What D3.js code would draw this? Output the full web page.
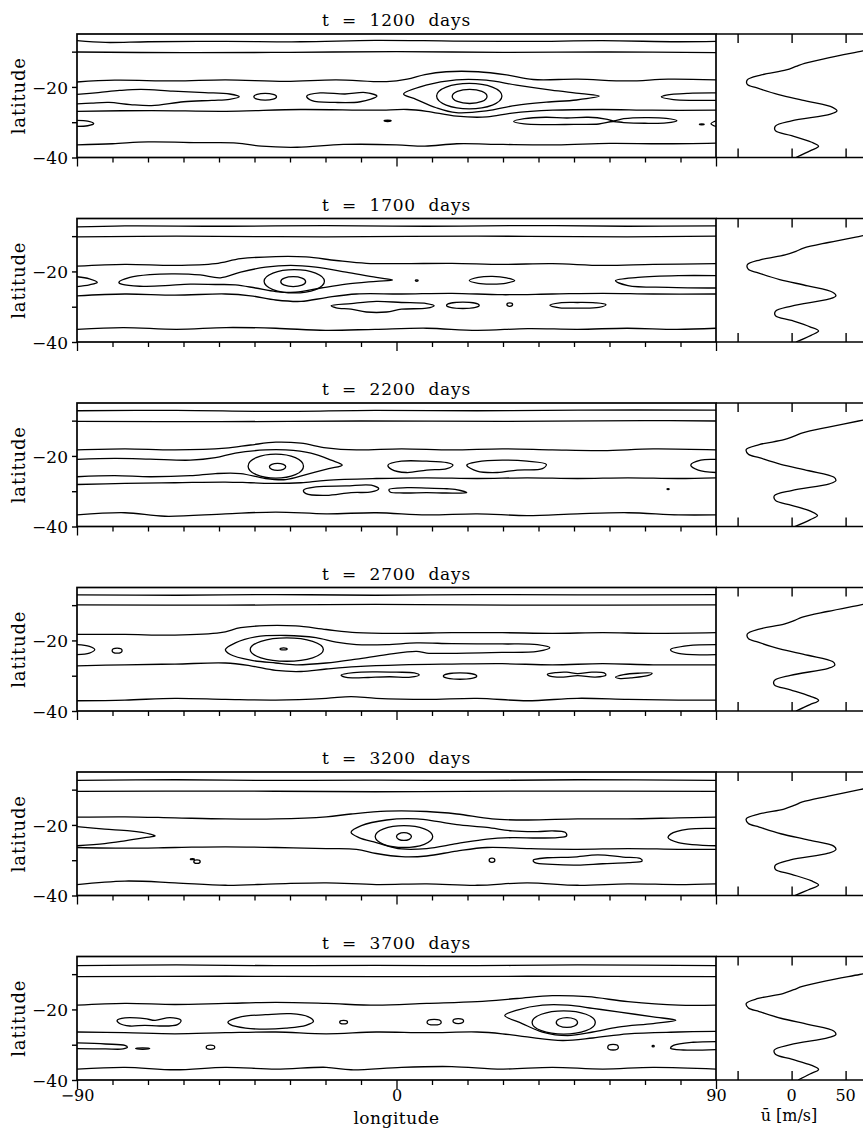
<!DOCTYPE html>
<html><head><meta charset="utf-8">
<script src="https://cdn.jsdelivr.net/npm/d3@7"></script>
<style>
body{margin:0;background:#fff}
svg{display:block}
text{font-family:"DejaVu Serif",serif;fill:#000}
</style>
</head><body>
<svg id="c" width="863" height="1129"></svg>
<script>
// ---------------- DATA ----------------
const days = [1200, 1700, 2200, 2700, 3200, 3700];
const lonTicks = [-90,-80,-70,-60,-50,-40,-30,-20,-10,0,10,20,30,40,50,60,70,80,90];
const lonLabels = [-90, 0, 90];
const latTicks = [-10,-20,-30,-40];
const latLabels = [-20,-40];
const uTicks = [-50, 0, 50];
const uLabels = [0, 50];

// open contour lines [lon, lat]
const open1200 = [
 [[-90,-6.9],[-82,-7.4],[-70,-7.2],[-48,-7.1],[-27,-7.2],[-6,-6.8],[16,-7.0],[37,-7.1],[58,-6.9],[79,-7.2],[90,-7.1]],
 [[-90,-10.1],[-60,-10.3],[-30,-10.2],[0,-10.0],[30,-10.2],[60,-10.1],[90,-10.3]],
 [[-90,-18.6],[-79.4,-18.1],[-62.4,-18.3],[-48.2,-18.0],[-31.2,-18.4],[-17,-18.0],[-2.8,-18.5],[3,-17.8],[8,-16.5],[14,-15.7],[23,-15.7],[31,-16.6],[38.5,-17.9],[51,-17.8],[65.2,-18.3],[76.5,-17.8],[90,-18.0]],
 [[-90,-22.1],[-84,-21.6],[-78,-21.0],[-72,-20.7],[-63,-21.2],[-54,-21.6],[-47,-22.0],[-44.3,-22.8],[-47,-23.5],[-52,-23.8],[-60,-24.2],[-69,-25.3],[-75,-25.0],[-81,-24.4],[-86,-24.6],[-90,-24.8]],
 [[90,-21.7],[82.2,-21.8],[76,-22.3],[74.6,-22.8],[78,-23.6],[84,-23.8],[90,-23.8]],
 [[-90,-26.9],[-69,-26.7],[-48,-26.9],[-27,-26.4],[-6,-26.6],[3,-26.4],[8.5,-26.9],[17,-28.3],[25.5,-28.5],[32.6,-27.4],[44,-26.6],[58,-26.4],[72,-26.6],[90,-26.6]],
 [[-90,-29.5],[-87,-29.7],[-85.3,-30.4],[-87,-31.0],[-90,-31.2]],
 [[90,-29.6],[88.6,-30.4],[90,-31.2]],
 [[-90,-36.4],[-80,-36.1],[-70,-35.6],[-55,-35.8],[-45,-35.9],[-38,-36.8],[-28,-37.1],[-15,-36.3],[0,-36.4],[8,-36.8],[17,-36.1],[30,-36.3],[45,-36.4],[60,-36.0],[75,-36.1],[90,-35.9]]
];
const closed1200 = [
 [[-25.3,-22.6],[-21.5,-21.7],[-14.5,-22.0],[-8.8,-21.6],[-5.5,-22.6],[-10.2,-24.2],[-17.3,-24.4],[-23.8,-23.9]],
 [[2.0,-22.0],[8.3,-19.5],[16.8,-18.0],[25.3,-18.1],[33.8,-19.5],[43.6,-20.9],[52.1,-21.9],[57.1,-22.6],[50.7,-23.7],[42.2,-24.3],[33.7,-25.2],[25.3,-26.8],[16.8,-27.3],[11.2,-25.9],[5.5,-23.5]],
 [[33,-29.8],[36,-29.0],[42,-28.6],[48,-28.8],[54,-28.6],[59,-29.1],[61,-29.6],[64,-29.0],[70,-28.7],[76,-28.9],[79,-29.6],[76,-30.2],[70,-30.3],[64,-30.1],[61,-29.8],[57,-30.5],[50,-30.6],[42,-30.7],[36,-30.5]]
];
const ovals1200 = [[-37.0,-22.8,3.2,0.95],[20.5,-22.6,9.2,3.6],[20.6,-22.7,4.9,2.0],[-2.5,-29.6,1.0,0.2],[86,-30.6,0.7,0.15]];
const profile1200 = [[-8.6,85],[-9.8,66],[-11.7,35],[-13.3,12],[-14.2,4],[-15.2,-5],[-16.6,-28],[-18.0,-41],[-19.3,-41],[-20.3,-32],[-22.2,-12],[-24.0,14],[-25.8,38],[-26.8,42],[-27.7,36],[-29.6,0],[-31.1,-15],[-32.4,-15],[-33.8,0],[-35.6,18],[-36.8,25],[-38.0,18],[-40,4]];

const open1700 = [
 [[-90,-7.4],[-76.5,-7.1],[-48,-7.2],[-20,-7.0],[8.5,-7.2],[37,-7.0],[65,-7.2],[90,-7.1]],
 [[-90,-10.2],[-62,-10.0],[-20,-10.2],[22.7,-10.0],[65,-10.2],[90,-10.0]],
 [[-90,-18.5],[-76.5,-18.0],[-62.4,-18.3],[-51,-17.8],[-43.9,-16.4],[-34,-15.8],[-25.5,-15.9],[-17,-16.9],[-8.5,-17.7],[1.4,-17.8],[15.6,-17.7],[29.8,-18.0],[43.9,-17.8],[58.1,-18.3],[72.3,-18.0],[90,-17.8]],
 [[-90,-21.5],[-86.5,-22.1],[-84.3,-23.1],[-86.5,-23.8],[-90,-24.3]],
 [[90,-21.2],[79.4,-21.2],[68,-21.7],[61.7,-22.6],[65.2,-24.0],[76.5,-24.5],[90,-24.7]],
 [[-90,-26.9],[-76.5,-26.4],[-62.4,-26.7],[-48.2,-26.4],[-41.1,-26.9],[-34,-28.1],[-26.9,-28.5],[-19.8,-27.4],[-11.3,-26.4],[1.4,-26.4],[15.6,-26.2],[29.8,-26.6],[43.9,-26.4],[58.1,-26.2],[72.3,-26.4],[90,-26.4]],
 [[-90,-36.4],[-77,-35.9],[-62,-36.4],[-48,-35.9],[-34,-36.1],[-20,-36.7],[-6,-36.4],[8.5,-36.1],[22.7,-36.7],[37,-36.2],[51,-36.4],[65,-36.1],[79,-36.4],[90,-36.1]]
];
const closed1700 = [
 [[-78.2,-23.1],[-75.1,-21.7],[-69.4,-20.9],[-62.4,-20.7],[-55.3,-21.0],[-49.6,-21.8],[-43.9,-20.2],[-36.9,-18.8],[-29.8,-18.3],[-22.7,-18.8],[-14.2,-20.2],[-5.7,-21.7],[-1.1,-22.4],[-5.7,-22.8],[-14.2,-23.6],[-21.3,-24.7],[-28.4,-25.9],[-34,-25.7],[-39.7,-24.7],[-45.4,-23.8],[-51,-23.7],[-58.1,-23.6],[-65.2,-24.0],[-72.3,-24.2],[-77.2,-23.7]],
 [[20.5,-22.6],[23,-21.7],[27,-21.4],[31,-21.8],[33.3,-22.6],[31,-23.3],[27,-23.6],[23,-23.4]],
 [[-18.4,-29.7],[-12.8,-29.1],[-5.7,-28.5],[1.4,-28.8],[8.5,-29.1],[10.6,-29.7],[8.5,-30.4],[1.4,-30.7],[-2.8,-31.5],[-8.5,-31.5],[-12.8,-30.7],[-17,-30.3]],
 [[43.2,-29.6],[46,-28.9],[51,-28.8],[56,-28.9],[59,-29.4],[57,-30.2],[51,-30.4],[46,-30.3]]
];
const ovals1700 = [[-28.8,-22.8,8.5,3.3],[-29.1,-22.9,3.5,1.4],[5.7,-22.6,0.4,0.2],[18.7,-29.6,4.6,0.9],[31.9,-29.4,0.8,0.5]];
const profile1700 = [[-8.8,85],[-10.0,64],[-11.8,34],[-13.4,11],[-14.3,4],[-15.3,-6],[-16.7,-29],[-18.1,-41],[-19.4,-40],[-20.4,-31],[-22.3,-11],[-24.1,15],[-25.9,38],[-26.9,41],[-27.8,35],[-29.8,0],[-31.3,-15],[-32.5,-15],[-33.9,0],[-35.7,17],[-36.9,25],[-38.1,18],[-40,4]];

const open2200 = [
 [[-90,-7.2],[-62,-7.1],[-34,-7.4],[-6,-7.1],[22.7,-7.2],[51,-7.0],[90,-7.0]],
 [[-90,-10.2],[-50,-10.3],[-10,-10.1],[30,-10.2],[70,-10.0],[90,-10.1]],
 [[-90,-18.3],[-76.5,-18.0],[-62.4,-18.3],[-48.2,-17.8],[-41.1,-16.9],[-34,-16.1],[-26.9,-16.4],[-19.8,-17.7],[-11.3,-18.3],[1.4,-18.0],[15.6,-18.3],[29.8,-18.0],[43.9,-18.3],[58.1,-18.5],[72.3,-18.0],[90,-18.3]],
 [[-90,-21.0],[-79.4,-20.7],[-69.4,-20.9],[-58.1,-21.2],[-51,-20.5],[-45.4,-19.2],[-36.9,-18.3],[-31.2,-18.3],[-24.1,-19.2],[-18.4,-21.2],[-15.3,-22.6],[-19.1,-23.6],[-25.5,-25.3],[-31.2,-26.7],[-36.9,-26.4],[-43.9,-25.0],[-51,-25.0],[-58.1,-25.6],[-69.4,-25.9],[-79.4,-25.6],[-90,-25.9]],
 [[90,-21.0],[85.7,-21.2],[82.9,-22.6],[85,-24.0],[90,-24.7]],
 [[-90,-28.1],[-76.5,-27.8],[-62.4,-27.6],[-48.2,-27.4],[-41.1,-27.6],[-34,-27.8],[-26.9,-27.6],[-19.8,-26.9],[-5.7,-26.4],[8.5,-26.2],[22.7,-26.4],[36.8,-26.2],[51,-26.4],[65.2,-26.2],[79.4,-26.4],[90,-26.2]],
 [[-90,-36.7],[-76.5,-36.1],[-65.2,-37.1],[-48.2,-36.4],[-34,-35.9],[-19.8,-36.4],[-5.7,-36.1],[8.5,-36.7],[22.7,-36.4],[36.8,-36.9],[51,-36.4],[65.2,-36.1],[79.4,-36.7],[90,-36.7]]
];
const closed2200 = [
 [[-2.4,-22.6],[1.4,-21.5],[8.5,-21.5],[14.2,-21.9],[15.9,-22.6],[14.2,-23.6],[8.5,-24.0],[2.8,-24.7],[-1.4,-23.8]],
 [[19.8,-22.6],[22.7,-21.7],[29.8,-21.2],[36.8,-21.5],[42.2,-22.4],[41.1,-23.6],[34,-24.0],[28.4,-24.7],[22.7,-24.3]],
 [[-26.2,-29.7],[-22.7,-28.8],[-14.2,-28.5],[-7.1,-28.3],[-5,-29.3],[-7.1,-30.2],[-12.8,-30.4],[-19.8,-31.2],[-25.5,-30.7]],
 [[-2.1,-29.5],[3,-29.0],[8.5,-29.1],[14.2,-29.3],[16.5,-29.5],[19.8,-30.4],[14,-30.5],[8.5,-30.4],[2,-30.5],[-1.8,-30.2]]
];
const ovals2200 = [[-34,-22.9,7.8,3.4],[-33.5,-23.1,2.3,1.0],[76.5,-29.4,0.3,0.15]];
const profile2200 = [[-8.7,85],[-10.1,62],[-11.9,33],[-13.4,11],[-14.3,3],[-15.4,-7],[-16.8,-30],[-18.2,-42],[-19.5,-40],[-20.5,-30],[-22.4,-10],[-24.2,16],[-26.0,39],[-27.0,41],[-27.9,35],[-29.8,0],[-31.3,-16],[-32.6,-15],[-34.0,0],[-35.7,18],[-36.9,24],[-38.1,17],[-40,3]];

const open2700 = [
 [[-90,-7.1],[-62,-7.2],[-34,-7.0],[-6,-7.2],[22.7,-7.0],[51,-7.1],[90,-7.0]],
 [[-90,-9.9],[-48,-10.0],[-6,-9.8],[37,-10.0],[90,-9.9]],
 [[-90,-18.3],[-76.5,-18.3],[-62.4,-18.5],[-49.6,-17.8],[-43.9,-16.4],[-36.9,-15.8],[-28.4,-15.9],[-19.8,-16.9],[-11.3,-17.8],[1.4,-18.0],[15.6,-17.8],[29.8,-17.8],[43.9,-18.0],[58.1,-17.8],[72.3,-18.0],[90,-17.8]],
 [[-90,-21.2],[-86.5,-21.7],[-85,-22.6],[-86.5,-23.6],[-90,-24.0]],
 [[90,-21.2],[82.2,-21.5],[77.2,-22.6],[79.4,-23.7],[90,-24.0]],
 [[-90,-27.2],[-76.5,-26.9],[-62.4,-26.7],[-48.2,-26.4],[-41.1,-27.2],[-34,-28.5],[-26.9,-28.8],[-19.8,-28.1],[-11.3,-27.4],[1.4,-26.9],[15.6,-26.7],[29.8,-26.6],[43.9,-26.9],[58.1,-26.6],[72.3,-26.9],[90,-26.9]],
 [[-90,-37.1],[-76.5,-36.9],[-62.4,-36.4],[-48.2,-36.7],[-34,-36.9],[-19.8,-36.4],[-12.8,-35.9],[-5.7,-36.4],[8.5,-36.7],[22.7,-36.4],[36.8,-37.1],[51,-36.4],[65.2,-36.7],[79.4,-36.9],[90,-36.9]]
];
const closed2700 = [
 [[-48.2,-22.6],[-45.4,-20.7],[-39.7,-19.0],[-31.2,-18.6],[-22.7,-19.2],[-17,-20.5],[-11.3,-21.2],[-2.8,-21.2],[5.7,-20.7],[15.6,-20.9],[29.8,-21.0],[39.7,-21.2],[43.2,-22.1],[39.7,-23.1],[29.8,-23.4],[19.8,-23.6],[8.5,-23.6],[5.7,-23.1],[-2.8,-24.0],[-11.3,-25.3],[-19.8,-26.4],[-28.4,-26.9],[-34,-26.4],[-41.1,-25.6],[-46.8,-24.0]],
 [[-15.6,-29.8],[-12,-29.1],[-6,-28.9],[0,-29.0],[5,-29.2],[6.4,-29.8],[4,-30.4],[-2,-30.3],[-8,-30.5],[-12,-30.6],[-14.5,-30.4]],
 [[42.5,-29.6],[45,-29.1],[48,-29.0],[51,-29.4],[55,-29.0],[58.5,-29.2],[59,-29.8],[56,-30.4],[51,-30.0],[47,-30.4],[43.5,-30.2]],
 [[61.7,-30.4],[64,-29.7],[68,-29.3],[72,-29.3],[71,-29.9],[66,-30.6],[63,-30.8]]
];
const ovals2700 = [[-78.7,-22.9,1.4,0.7],[-30.9,-22.6,10.3,3.3],[-31.8,-22.4,1.0,0.3],[17.9,-30.1,4.7,0.9]];
const profile2700 = [[-8.6,85],[-9.9,64],[-11.8,33],[-13.4,10],[-14.3,3],[-15.4,-7],[-16.8,-30],[-18.2,-41],[-19.5,-40],[-20.5,-31],[-22.4,-11],[-24.2,15],[-26.0,38],[-27.0,40],[-27.9,34],[-29.9,-1],[-31.4,-16],[-32.6,-16],[-34.0,-1],[-35.8,17],[-37.0,25],[-38.2,17],[-40,4]];

const open3200 = [
 [[-90,-7.4],[-62,-7.2],[-34,-7.4],[-6,-7.3],[22.7,-7.4],[51,-7.2],[90,-7.4]],
 [[-90,-10.5],[-48,-10.4],[-6,-10.6],[37,-10.4],[90,-10.5]],
 [[-90,-17.8],[-76.5,-17.7],[-62.4,-18.0],[-48.2,-18.3],[-34,-18.3],[-19.8,-17.7],[-12.8,-16.9],[-2.8,-16.1],[8.5,-16.2],[17,-16.9],[26.9,-18.3],[36.8,-18.6],[51,-18.3],[65.2,-18.3],[79.4,-18.0],[90,-17.8]],
 [[-90,-20.5],[-82.2,-21.2],[-75.1,-21.7],[-69.4,-22.6],[-68,-23.1],[-70.9,-23.6],[-76.5,-24.5],[-82.2,-25.3],[-90,-25.9]],
 [[90,-21.0],[82.2,-21.2],[77.2,-22.6],[76.5,-23.6],[79.4,-25.0],[90,-25.9]],
 [[-90,-26.4],[-76.5,-26.6],[-62.4,-26.4],[-48.2,-26.2],[-34,-26.4],[-19.8,-26.7],[-11.3,-26.9],[-5.7,-28.1],[1.4,-29.0],[8.5,-28.8],[17,-27.4],[25.5,-26.4],[36.8,-26.7],[51,-26.9],[65.2,-26.7],[79.4,-26.9],[90,-26.9]],
 [[-90,-36.9],[-76.5,-35.9],[-62.4,-36.4],[-48.2,-37.1],[-34,-36.7],[-19.8,-36.4],[-5.7,-36.9],[8.5,-36.7],[22.7,-37.1],[36.8,-36.4],[51,-37.1],[65.2,-36.7],[79.4,-36.9],[90,-36.7]]
];
const closed3200 = [
 [[-12.8,-22.1],[-9.9,-20.2],[-2.8,-18.6],[5.7,-18.3],[11.3,-19.0],[17,-19.9],[25.5,-20.7],[32.6,-21.7],[39.7,-21.9],[43.9,-21.7],[47.5,-22.1],[47.9,-23.1],[45.3,-23.6],[39.7,-23.7],[32.6,-23.6],[25.5,-24.0],[17,-25.3],[8.5,-26.7],[1.4,-26.8],[-5.7,-25.0],[-10.6,-23.6]],
 [[38.5,-30.0],[42.5,-29.3],[49.6,-29.1],[56.7,-28.5],[63.8,-29.1],[68.7,-29.5],[69.2,-30.2],[65.2,-30.7],[58.1,-31.0],[51,-31.4],[43.9,-31.2],[39,-30.7]]
];
const ovals3200 = [[2.1,-23.3,8.1,3.1],[2.1,-23.3,2.1,1.1],[-57.5,-29.7,0.6,0.15],[-56.2,-30.4,0.9,0.5],[26.9,-30.0,0.8,0.6]];
const profile3200 = [[-8.7,85],[-10.0,63],[-11.9,33],[-13.5,10],[-14.4,3],[-15.5,-7],[-16.9,-30],[-18.3,-42],[-19.6,-40],[-20.6,-30],[-22.5,-10],[-24.3,16],[-26.0,39],[-27.0,41],[-28.0,34],[-29.9,-1],[-31.4,-15],[-32.6,-15],[-34.0,0],[-35.8,18],[-37.0,25],[-38.2,17],[-40,3]];

const open3700 = [
 [[-90,-7.6],[-62,-7.4],[-34,-7.6],[-6,-7.5],[22.7,-7.6],[51,-7.4],[90,-7.6]],
 [[-90,-10.7],[-48,-10.6],[-6,-10.7],[37,-10.6],[90,-10.7]],
 [[-90,-18.8],[-76.5,-18.3],[-62.4,-18.6],[-48.2,-18.3],[-34,-18.0],[-19.8,-18.3],[-5.7,-18.8],[8.5,-18.3],[22.7,-17.8],[34,-16.9],[43.9,-16.1],[53.9,-16.4],[65.2,-17.8],[79.4,-18.8],[90,-18.8]],
 [[-90,-26.4],[-76.5,-26.6],[-62.4,-26.9],[-48.2,-26.6],[-34,-26.4],[-19.8,-26.9],[-5.7,-26.4],[8.5,-26.6],[22.7,-26.4],[29.8,-26.9],[36.8,-27.8],[46.8,-28.8],[55.3,-28.1],[65.2,-26.9],[79.4,-26.4],[90,-26.2]],
 [[-90,-29.5],[-82,-29.8],[-76.5,-30.2],[-75.8,-30.7],[-77,-31.2],[-82,-31.2],[-90,-31.1]],
 [[90,-29.1],[83.6,-29.3],[78,-30.2],[77.2,-31.0],[80.8,-31.5],[90,-31.4]],
 [[-90,-36.9],[-76.5,-36.4],[-62.4,-37.1],[-48.2,-36.4],[-34,-36.9],[-19.8,-36.4],[-12.8,-37.1],[1.4,-36.4],[15.6,-36.2],[29.8,-36.9],[43.9,-36.4],[58.1,-36.9],[72.3,-36.4],[90,-36.9]]
];
const closed3700 = [
 [[-78.7,-23.1],[-76.5,-22.4],[-70.9,-22.6],[-68,-23.1],[-63.8,-22.3],[-60.7,-23.1],[-61.7,-24.3],[-66.6,-24.7],[-70.9,-24.5],[-75.1,-24.7],[-78,-24.0]],
 [[-47.5,-23.6],[-43.9,-22.1],[-36.9,-21.5],[-29.8,-21.2],[-24.8,-22.1],[-23.4,-23.4],[-25.5,-24.5],[-31.2,-25.3],[-36.9,-25.6],[-42.5,-25.3],[-46.8,-24.3]],
 [[30.5,-21.7],[34,-20.2],[41.1,-18.8],[48.2,-18.8],[55.3,-19.7],[62.4,-20.7],[72.3,-22.1],[78.7,-23.1],[72.3,-24.0],[62.4,-25.0],[55.3,-26.4],[48.2,-27.4],[41.1,-26.4],[35.4,-24.0]]
];
const ovals3700 = [[-14.9,-23.6,1.1,0.5],[10.6,-23.6,2.0,0.8],[17.4,-23.3,1.5,0.7],[47.1,-23.7,8.9,3.3],[48,-23.7,3,1.4],[-71.5,-31.1,2.0,0.2],[-52.4,-30.7,1.2,0.6],[61,-30.7,1.5,0.8],[72.3,-30.4,0.3,0.2]];
const profile3700 = [[-8.8,85],[-10.1,63],[-11.9,32],[-13.5,10],[-14.4,2],[-15.5,-8],[-16.9,-31],[-18.3,-42],[-19.6,-40],[-20.6,-30],[-22.5,-10],[-24.3,16],[-26.1,39],[-27.1,41],[-28.0,34],[-30.0,-1],[-31.5,-16],[-32.7,-15],[-34.1,0],[-35.8,18],[-37.0,25],[-38.3,17],[-40,6]];

// ---------------- DRAW ----------------
const panels = [
 {day: days[0], open: open1200, closed: closed1200, ovals: ovals1200, profile: profile1200},
 {day: days[1], open: open1700, closed: closed1700, ovals: ovals1700, profile: profile1700},
 {day: days[2], open: open2200, closed: closed2200, ovals: ovals2200, profile: profile2200},
 {day: days[3], open: open2700, closed: closed2700, ovals: ovals2700, profile: profile2700},
 {day: days[4], open: open3200, closed: closed3200, ovals: ovals3200, profile: profile3200},
 {day: days[5], open: open3700, closed: closed3700, ovals: ovals3700, profile: profile3700}
];

const svg = d3.select('#c');
const defs = svg.append('defs');
const x = d3.scaleLinear().domain([-90, 90]).range([77, 716]);
const u = d3.scaleLinear().domain([-70, 80]).range([716, 878]);
const TOP0 = 34, STEP = 184.5, PH = 123.5;
const FONT = '"DejaVu Serif", serif';

panels.forEach((p, i) => {
  const top = TOP0 + i * STEP, bot = top + PH;
  const y = d3.scaleLinear().domain([-40, -5]).range([bot, top]);
  const g = svg.append('g');

  defs.append('clipPath').attr('id', 'm' + i).append('rect')
    .attr('x', x(-90)).attr('y', top).attr('width', x(90) - x(-90)).attr('height', PH);
  defs.append('clipPath').attr('id', 'p' + i).append('rect')
    .attr('x', x(90)).attr('y', top).attr('width', 200).attr('height', PH);

  const lineOpen = d3.line().x(d => x(d[0])).y(d => y(d[1])).curve(d3.curveCatmullRom.alpha(0.5));
  const lineClosed = d3.line().x(d => x(d[0])).y(d => y(d[1])).curve(d3.curveCatmullRomClosed.alpha(0.5));

  const cg = g.append('g').attr('clip-path', `url(#m${i})`)
    .attr('fill', 'none').attr('stroke', '#000').attr('stroke-width', 1.3).attr('stroke-linejoin', 'round');
  cg.selectAll('path.o').data(p.open).join('path').attr('class', 'o').attr('d', lineOpen);
  cg.selectAll('path.c').data(p.closed).join('path').attr('class', 'c').attr('d', lineClosed);
  cg.selectAll('ellipse').data(p.ovals).join('ellipse')
    .attr('cx', d => x(d[0])).attr('cy', d => y(d[1]))
    .attr('rx', d => x(d[0] + d[2]) - x(d[0]))
    .attr('ry', d => y(d[1] - d[3]) - y(d[1]));

  // zonal-mean wind profile
  const pl = d3.line().x(d => u(d[1])).y(d => y(d[0])).curve(d3.curveCatmullRom.alpha(0.5));
  g.append('g').attr('clip-path', `url(#p${i})`).append('path').datum(p.profile)
    .attr('d', pl).attr('fill', 'none').attr('stroke', '#000').attr('stroke-width', 1.3);

  // main frame
  g.append('rect').attr('x', x(-90)).attr('y', top).attr('width', x(90) - x(-90)).attr('height', PH)
    .attr('fill', 'none').attr('stroke', '#000').attr('stroke-width', 1.7);
  g.append('line').attr('x1', x(90)).attr('x2', 863).attr('y1', top).attr('y2', top).attr('stroke', '#000').attr('stroke-width', 1.7);
  g.append('line').attr('x1', x(90)).attr('x2', 863).attr('y1', bot).attr('y2', bot).attr('stroke', '#000').attr('stroke-width', 1.7);

  // left axis
  const ya = g.append('g').attr('transform', `translate(${x(-90)},0)`)
    .call(d3.axisLeft(y).tickValues(latTicks).tickSize(5).tickSizeOuter(0)
      .tickFormat(d => latLabels.includes(d) ? d3.format('d')(d).replace('-', '\u2212') : ''));
  ya.select('.domain').remove();
  ya.selectAll('line').attr('stroke-width', 1.4);
  ya.selectAll('text').attr('font-size', 17).attr('font-family', FONT).attr('dx', '-1').attr('dy', '0.36em');

  // bottom axis
  const xa = g.append('g').attr('transform', `translate(0,${bot})`)
    .call(d3.axisBottom(x).tickValues(lonTicks).tickSizeOuter(0).tickSize(5)
      .tickFormat(d => (i === panels.length - 1 && lonLabels.includes(d)) ? d3.format('d')(d).replace('-', '\u2212') : ''));
  xa.select('.domain').remove();
  xa.selectAll('.tick line').attr('stroke-width', 1.3).attr('y2', d => lonLabels.includes(d) ? 9 : 5);
  xa.selectAll('text').attr('font-size', 16).attr('font-family', FONT).attr('y', 21).attr('dy', null);

  // profile ticks (inward)
  const ut = g.append('g').attr('transform', `translate(0,${top})`)
    .call(d3.axisBottom(u).tickValues(uTicks).tickSize(9).tickFormat(''));
  ut.select('.domain').remove();
  ut.selectAll('line').attr('stroke-width', 1.4);
  const ub = g.append('g').attr('transform', `translate(0,${bot})`)
    .call(d3.axisTop(u).tickValues(uTicks).tickSize(9).tickFormat(''));
  ub.select('.domain').remove();
  ub.selectAll('line').attr('stroke-width', 1.4);

  // title
  g.append('text').attr('x', (x(-90) + x(90)) / 2).attr('y', top - 8)
    .attr('text-anchor', 'middle').attr('font-size', 17).attr('letter-spacing', 0.8)
    .style('white-space', 'pre')
    .text(`t  =  ${p.day}  days`);

  // y label
  g.append('text').attr('transform', `translate(25,${(top + bot) / 2}) rotate(-90)`)
    .attr('text-anchor', 'middle').attr('font-size', 18).attr('letter-spacing', 0.8)
    .text('latitude');

  if (i === panels.length - 1) {
    g.selectAll('text.ul').data(uLabels).join('text').attr('class', 'ul')
      .attr('x', d => u(d)).attr('y', bot + 21).attr('text-anchor', 'middle')
      .attr('font-size', 16).text(d => d);
    g.append('text').attr('x', (x(-90) + x(90)) / 2).attr('y', bot + 44).attr('text-anchor', 'middle')
      .attr('font-size', 17).attr('letter-spacing', 0.5).text('longitude');
    g.append('text').attr('x', 789).attr('y', bot + 41).attr('text-anchor', 'middle')
      .attr('font-size', 16).text('\u016B [m/s]');
  }
});
</script>
</body></html>
